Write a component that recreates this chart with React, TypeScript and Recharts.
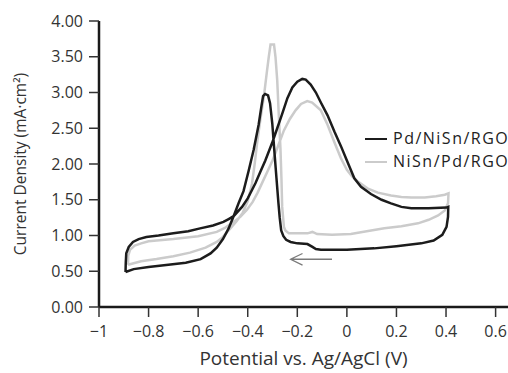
import { LineChart, Line, XAxis, YAxis, Legend } from 'recharts'

type Pt = [number, number]

// potential (V) / current density (mA·cm²)
const PD_NISN_RGO: Pt[] = [
  [-0.893, 0.49], [-0.892, 0.62], [-0.89, 0.75], [-0.88, 0.84], [-0.863, 0.91],
  [-0.84, 0.95], [-0.809, 0.98], [-0.76, 1.0], [-0.7, 1.03], [-0.64, 1.06],
  [-0.592, 1.1], [-0.54, 1.14], [-0.498, 1.19], [-0.477, 1.23], [-0.457, 1.27],
  [-0.423, 1.4], [-0.4, 1.52], [-0.369, 1.73], [-0.349, 1.89], [-0.329, 2.05],
  [-0.301, 2.3], [-0.281, 2.5], [-0.261, 2.7], [-0.24, 2.92], [-0.22, 3.07],
  [-0.2, 3.15], [-0.18, 3.19], [-0.166, 3.18], [-0.146, 3.11], [-0.125, 3.0],
  [-0.105, 2.86], [-0.078, 2.68], [-0.05, 2.45], [-0.024, 2.25], [0.0, 2.05],
  [0.03, 1.8], [0.057, 1.68], [0.097, 1.58], [0.14, 1.5], [0.178, 1.45],
  [0.22, 1.4], [0.26, 1.38], [0.33, 1.38], [0.402, 1.39], [0.409, 1.4],
  [0.408, 1.26], [0.402, 1.12], [0.385, 1.01], [0.35, 0.93], [0.3, 0.89],
  [0.25, 0.87], [0.2, 0.85], [0.11, 0.82], [0.0, 0.8], [-0.105, 0.8],
  [-0.125, 0.81], [-0.139, 0.84], [-0.159, 0.88], [-0.2, 0.89], [-0.227, 0.91],
  [-0.245, 0.94], [-0.256, 0.99], [-0.265, 1.07], [-0.271, 1.25], [-0.276, 1.45],
  [-0.284, 1.8], [-0.293, 2.2], [-0.301, 2.57], [-0.31, 2.85], [-0.318, 2.96],
  [-0.33, 2.98], [-0.338, 2.95], [-0.345, 2.8], [-0.356, 2.55], [-0.376, 2.2],
  [-0.396, 1.91], [-0.417, 1.62], [-0.437, 1.45], [-0.457, 1.27], [-0.477, 1.1],
  [-0.5, 0.95], [-0.525, 0.83], [-0.55, 0.75], [-0.59, 0.67], [-0.65, 0.62],
  [-0.72, 0.59], [-0.8, 0.56], [-0.86, 0.53], [-0.893, 0.49],
]

const NISN_PD_RGO: Pt[] = [
  [-0.883, 0.59], [-0.882, 0.72], [-0.875, 0.8], [-0.856, 0.86], [-0.83, 0.89],
  [-0.8, 0.92], [-0.7, 0.95], [-0.6, 0.99], [-0.525, 1.05], [-0.49, 1.11],
  [-0.457, 1.19], [-0.43, 1.26], [-0.403, 1.36], [-0.38, 1.47], [-0.36, 1.6],
  [-0.34, 1.75], [-0.32, 1.9], [-0.3, 2.05], [-0.281, 2.22], [-0.254, 2.47],
  [-0.23, 2.63], [-0.207, 2.75], [-0.185, 2.84], [-0.16, 2.88], [-0.14, 2.86],
  [-0.105, 2.75], [-0.078, 2.55], [-0.05, 2.3], [-0.024, 2.08], [0.0, 1.92],
  [0.02, 1.83], [0.043, 1.76], [0.083, 1.66], [0.125, 1.6], [0.178, 1.56],
  [0.22, 1.54], [0.26, 1.53], [0.314, 1.53], [0.36, 1.55], [0.395, 1.57],
  [0.41, 1.59], [0.408, 1.45], [0.395, 1.35], [0.368, 1.28], [0.33, 1.22],
  [0.287, 1.17], [0.22, 1.13], [0.151, 1.1], [0.08, 1.06], [0.016, 1.02],
  [-0.06, 1.01], [-0.12, 1.02], [-0.139, 1.05], [-0.159, 1.03], [-0.2, 1.03],
  [-0.234, 1.03], [-0.248, 1.07], [-0.254, 1.12], [-0.261, 1.4], [-0.264, 1.8],
  [-0.268, 2.22], [-0.275, 2.71], [-0.281, 3.17], [-0.288, 3.5], [-0.294, 3.67],
  [-0.308, 3.67], [-0.315, 3.5], [-0.322, 3.31], [-0.335, 2.94], [-0.349, 2.62],
  [-0.362, 2.3], [-0.372, 2.0], [-0.383, 1.72], [-0.4, 1.48], [-0.42, 1.32],
  [-0.445, 1.2], [-0.47, 1.1], [-0.5, 0.98], [-0.525, 0.91], [-0.57, 0.83],
  [-0.633, 0.76], [-0.7, 0.71], [-0.768, 0.67], [-0.83, 0.64], [-0.883, 0.59],
]

// scan direction arrow (head wings, tip, tail)
const SCAN_ARROW: Pt[] = [
  [-0.179, 0.748], [-0.227, 0.668], [-0.179, 0.585], [-0.227, 0.668], [-0.06, 0.668],
]

const X_TICKS = [-1, -0.8, -0.6, -0.4, -0.2, 0, 0.2, 0.4, 0.6]
const Y_TICKS = [0, 0.5, 1, 1.5, 2, 2.5, 3, 3.5, 4]
const SERIES_NAMES = ['Pd/NiSn/RGO', 'NiSn/Pd/RGO']
const SERIES_COLORS = ['#1c1c1c', '#cbcbcb']
const X_TITLE = 'Potential vs. Ag/AgCl (V)'
const Y_TITLE = 'Current Density (mA·cm²)'

const FONT = '"Open Sans", "DejaVu Sans", sans-serif'
const INK = '#333'

const toRows = (pts: Pt[]) => pts.map(([x, y]) => ({ x, y }))

const fmtX = (v: number) => (v < 0 ? '\u2212' + Math.abs(v) : String(v))

function CvLegend() {
  return (
    <div style={{ fontFamily: FONT, fontSize: 16, letterSpacing: 1.5, color: '#222', lineHeight: '23px' }}>
      {SERIES_NAMES.map((name, i) => (
        <div key={name} style={{ display: 'flex', alignItems: 'center', whiteSpace: 'nowrap' }}>
          <span
            style={{
              display: 'inline-block',
              width: 22,
              height: 0,
              borderTop: `2.5px solid ${SERIES_COLORS[i]}`,
              marginRight: 6,
            }}
          />
          {name}
        </div>
      ))}
    </div>
  )
}

export default function App() {
  return (
    <div style={{ position: 'absolute', left: 0, top: 0, width: 508, height: 373, background: '#fff' }}>
      <LineChart width={508} height={373} margin={{ top: 21, right: 0, left: 0, bottom: 0 }}>
        <XAxis
          type="number"
          dataKey="x"
          domain={[-1, 0.65]}
          ticks={X_TICKS}
          tickFormatter={fmtX}
          allowDataOverflow
          height={66}
          stroke="#1a1a1a"
          strokeWidth={2.5}
          tickSize={10}
          tickMargin={9}
          tickLine={{ stroke: INK, strokeWidth: 1.5 }}
          tick={{ fill: INK, fontSize: 16, fontFamily: FONT }}
          label={{
            value: X_TITLE,
            position: 'insideBottom',
            offset: 8,
            fill: INK,
            fontSize: 19,
            style: { fontFamily: FONT },
          }}
        />
        <YAxis
          type="number"
          dataKey="y"
          domain={[0, 4]}
          ticks={Y_TICKS}
          tickFormatter={(v: number) => v.toFixed(2)}
          width={99}
          stroke="#1a1a1a"
          strokeWidth={2.5}
          tickSize={10}
          tickMargin={6}
          tickLine={{ stroke: INK, strokeWidth: 1.5 }}
          tick={{ fill: INK, fontSize: 16, fontFamily: FONT }}
          label={{
            value: Y_TITLE,
            angle: -90,
            position: 'insideLeft',
            offset: 20,
            fill: INK,
            fontSize: 15.5,
            style: { textAnchor: 'middle', fontFamily: FONT },
          }}
        />
        <Legend
          layout="vertical"
          align="center"
          verticalAlign="middle"
          content={() => <CvLegend />}
          wrapperStyle={{ left: 365, top: 127, width: 'auto' }}
        />
        <Line
          data={toRows(NISN_PD_RGO)}
          dataKey="y"
          type="linear"
          stroke={SERIES_COLORS[1]}
          strokeWidth={2.5}
          dot={false}
          activeDot={false}
          isAnimationActive={false}
          name={SERIES_NAMES[1]}
        />
        <Line
          data={toRows(PD_NISN_RGO)}
          dataKey="y"
          type="linear"
          stroke={SERIES_COLORS[0]}
          strokeWidth={2.5}
          dot={false}
          activeDot={false}
          isAnimationActive={false}
          name={SERIES_NAMES[0]}
        />
        <Line
          data={toRows(SCAN_ARROW)}
          dataKey="y"
          type="linear"
          stroke="#7a7a7a"
          strokeWidth={1.3}
          dot={false}
          activeDot={false}
          isAnimationActive={false}
          legendType="none"
        />
      </LineChart>
    </div>
  )
}
